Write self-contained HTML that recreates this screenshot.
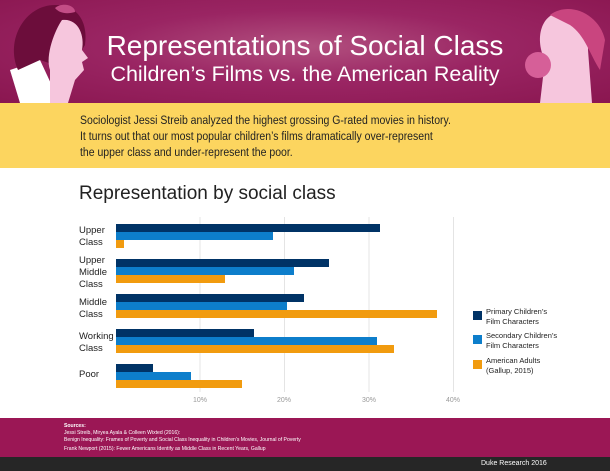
<!DOCTYPE html>
<html><head><style>
body{margin:0;width:610px;height:471px;overflow:hidden;font-family:"Liberation Sans",sans-serif;background:#fff;position:relative}
.hdr{position:absolute;left:0;top:0;width:610px;height:103px;background:radial-gradient(ellipse at 50% 45%,#b2507f 0%,#9a2563 45%,#8a1650 100%);overflow:hidden}
.t1{position:absolute;left:0;width:610px;text-align:center;color:#fff}
.yel{position:absolute;left:0;top:103px;width:610px;height:65px;background:#fcd55f}
.yel p{position:absolute;left:80px;top:9px;margin:0;font-size:12.2px;line-height:16px;color:#222;transform:scaleX(0.86);transform-origin:0 0;white-space:nowrap}
.lab{position:absolute;font-size:9.5px;line-height:12px;color:#222}
.tick{position:absolute;top:397px;font-size:7px;color:#999}
.leg{position:absolute;left:486px;font-size:7.5px;line-height:10px;color:#222}
.sq{position:absolute;left:473px;width:9px;height:9px}
</style></head><body>
<div class="hdr">
<svg width="610" height="103" style="position:absolute;left:0;top:0">
<path d="M20 103 L10 70 L40 60 L60 103Z" fill="#fff"/>
<path d="M18 70 C5 40 25 5 55 5 C80 5 88 25 85 45 L70 70 L40 60 Z" fill="#6c0d3b"/>
<path d="M62 20 C78 18 85 35 82 50 L88 58 L82 62 L84 70 L75 80 L68 103 L50 103 L50 70 C45 55 55 30 62 20Z" fill="#f6c6dd"/>
<path d="M55 8 C62 2 75 5 75 12 C68 14 60 14 55 8Z" fill="#c34d86"/>
<path d="M540 103 L545 60 C535 40 540 15 560 12 C580 10 590 30 588 50 L592 103Z" fill="#f6c6dd"/>
<path d="M550 15 C570 0 600 15 605 40 L600 70 C590 55 585 35 570 25Z" fill="#c9457f"/>
<circle cx="538" cy="65" r="13" fill="#d65f98"/>
</svg>
<div class="t1" style="top:30px;font-size:28px">Representations of Social Class</div>
<div class="t1" style="top:62px;font-size:21.5px">Children’s Films vs. the American Reality</div>
</div>
<div class="yel"><p>Sociologist Jessi Streib analyzed the highest grossing G-rated movies in history.<br>It turns out that our most popular children’s films dramatically over-represent<br>the upper class and under-represent the poor.</p></div>
<div style="position:absolute;left:79px;top:183px;font-size:19px;color:#222">Representation by social class</div>
<svg width="610" height="471" style="position:absolute;left:0;top:0">
<g stroke="#e4e4e4" stroke-width="1"><line x1="200" y1="217" x2="200" y2="392"/><line x1="284.5" y1="217" x2="284.5" y2="392"/><line x1="369" y1="217" x2="369" y2="392"/><line x1="453.5" y1="217" x2="453.5" y2="392"/></g>
<g fill="#003366">
<rect x="116" y="224" width="264" height="8"/><rect x="116" y="259" width="213" height="8"/><rect x="116" y="294" width="188" height="8"/><rect x="116" y="329" width="138" height="8"/><rect x="116" y="364" width="37" height="8"/></g>
<g fill="#0d7ecb">
<rect x="116" y="232" width="157" height="8"/><rect x="116" y="267" width="178" height="8"/><rect x="116" y="302" width="171" height="8"/><rect x="116" y="337" width="261" height="8"/><rect x="116" y="372" width="75" height="8"/></g>
<g fill="#f19b0f">
<rect x="116" y="240" width="8" height="8"/><rect x="116" y="275" width="109" height="8"/><rect x="116" y="310" width="321" height="8"/><rect x="116" y="345" width="278" height="8"/><rect x="116" y="380" width="126" height="8"/></g>
</svg>
<div class="lab" style="left:79px;top:225px">Upper<br>Class</div>
<div class="lab" style="left:79px;top:255px">Upper<br>Middle<br>Class</div>
<div class="lab" style="left:79px;top:297px">Middle<br>Class</div>
<div class="lab" style="left:79px;top:331px">Working<br>Class</div>
<div class="lab" style="left:79px;top:369px">Poor</div>
<div class="tick" style="left:193px">10%</div><div class="tick" style="left:277px">20%</div><div class="tick" style="left:362px">30%</div><div class="tick" style="left:446px">40%</div>
<div class="sq" style="top:311px;background:#003366"></div><div class="leg" style="top:307px">Primary Children’s<br>Film Characters</div>
<div class="sq" style="top:335px;background:#0d7ecb"></div><div class="leg" style="top:331px">Secondary Children’s<br>Film Characters</div>
<div class="sq" style="top:360px;background:#f19b0f"></div><div class="leg" style="top:356px">American Adults<br>(Gallup, 2015)</div>
<div style="position:absolute;left:0;top:418px;width:610px;height:39px;background:#9b1755;color:#fff;font-size:5.1px;line-height:7px">
<div style="position:absolute;left:64px;top:5px"><b>Sources:</b><br>Jessi Streib, Miryea Ayala &amp; Colleen Wixted (2016):<br>Benign Inequality: Frames of Poverty and Social Class Inequality in Children's Movies, Journal of Poverty<br><span style="position:relative;top:2px">Frank Newport (2015): Fewer Americans Identify as Middle Class in Recent Years, Gallup</span></div></div>
<div style="position:absolute;left:0;top:457px;width:610px;height:14px;background:#262626"><span style="position:absolute;left:481px;top:3px;color:#fff;font-size:7px">Duke Research 2016</span></div>
</body></html>
